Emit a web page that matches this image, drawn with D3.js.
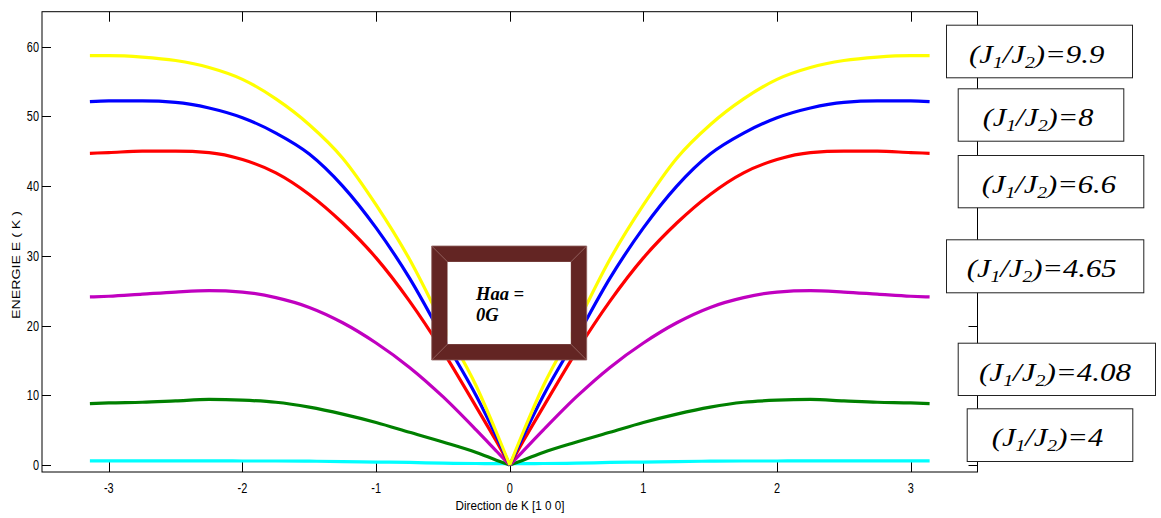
<!DOCTYPE html>
<html>
<head>
<meta charset="utf-8">
<script src="https://cdn.jsdelivr.net/npm/d3@7"></script>
<style>
  body { margin: 0; background: #fff; }
  svg { display: block; }
</style>
</head>
<body>
<svg id="chart" width="1161" height="518"></svg>
<script>
// Wave vector along [1 0 0], from -pi to pi
const kValues = [-3.1416, -3.0, -2.75, -2.5, -2.25, -2.0, -1.75, -1.5, -1.25, -1.0, -0.75, -0.5, -0.25, -0.1,
                 0,
                 0.1, 0.25, 0.5, 0.75, 1.0, 1.25, 1.5, 1.75, 2.0, 2.25, 2.5, 2.75, 3.0, 3.1416];

// Energy E(K) for each J1/J2 ratio
const energy99  = [58.7, 58.7, 58.5, 58.0, 57.0, 55.3, 52.5, 48.8, 44.0, 37.3, 29.5, 20.2, 11.3, 4.7,
                   0, 4.7, 11.3, 20.2, 29.5, 37.3, 44.0, 48.8, 52.5, 55.3, 57.0, 58.0, 58.5, 58.7, 58.7];
const energy8   = [52.1, 52.2, 52.2, 52.0, 51.2, 49.8, 47.6, 44.6, 40.0, 34.0, 26.8, 18.3, 9.9, 4.1,
                   0, 4.1, 9.9, 18.3, 26.8, 34.0, 40.0, 44.6, 47.6, 49.8, 51.2, 52.0, 52.2, 52.2, 52.1];
const energy66  = [44.7, 44.8, 45.0, 45.0, 44.8, 43.8, 41.9, 38.8, 34.7, 29.7, 23.5, 16.3, 8.3, 3.4,
                   0, 3.4, 8.3, 16.3, 23.5, 29.7, 34.7, 38.8, 41.9, 43.8, 44.8, 45.0, 45.0, 44.8, 44.7];
const energy465 = [24.1, 24.2, 24.5, 24.8, 25.0, 24.8, 24.0, 22.6, 20.4, 17.5, 14.0, 9.8, 5.0, 2.0,
                   0, 2.0, 5.0, 9.8, 14.0, 17.5, 20.4, 22.6, 24.0, 24.8, 25.0, 24.8, 24.5, 24.2, 24.1];
const energy408 = [8.8, 8.9, 9.0, 9.2, 9.4, 9.3, 9.0, 8.3, 7.3, 6.1, 4.7, 3.3, 1.8, 0.7,
                   0, 0.7, 1.8, 3.3, 4.7, 6.1, 7.3, 8.3, 9.0, 9.3, 9.4, 9.2, 9.0, 8.9, 8.8];
const energy4   = [0.6, 0.6, 0.6, 0.6, 0.6, 0.58, 0.58, 0.55, 0.5, 0.43, 0.37, 0.27, 0.22, 0.2,
                   0.2, 0.2, 0.22, 0.27, 0.37, 0.43, 0.5, 0.55, 0.58, 0.58, 0.6, 0.6, 0.6, 0.6, 0.6];

const ratioLabels = ["9.9", "8", "6.6", "4.65", "4.08", "4"];
const xTickValues = [-3, -2, -1, 0, 1, 2, 3];
const yTickValues = [0, 10, 20, 30, 40, 50, 60];

// Series, drawn bottom to top
const series = [
  { values: energy4,   color: "#00ffff" },
  { values: energy408, color: "#008000" },
  { values: energy465, color: "#c000c0" },
  { values: energy66,  color: "#ff0000" },
  { values: energy8,   color: "#0000ff" },
  { values: energy99,  color: "#ffff00" }
];

// Annotation boxes on the right (pixel layout)
const noteBoxes = [
  { x: 946,   y: 24.7,  w: 186,   h: 52.6, tx: 969,   tw: 136   },
  { x: 957.7, y: 88.3,  w: 165.6, h: 52.4, tx: 982.7, tw: 111.3 },
  { x: 957.7, y: 155,   w: 185.6, h: 52.3, tx: 981.7, tw: 135   },
  { x: 946,   y: 239.3, w: 197.3, h: 53,   tx: 966.7, tw: 150   },
  { x: 957.7, y: 342.7, w: 197.3, h: 52.3, tx: 979,   tw: 152.7 },
  { x: 966.7, y: 408.3, w: 165.6, h: 52.7, tx: 991.7, tw: 111.6 }
];

const svg = d3.select("#chart");
const plot = { left: 42, right: 977.5, top: 11.7, bottom: 472 };

const x = d3.scaleLinear().domain([-3.5, 3.5]).range([plot.left, plot.right]);
const y = d3.scaleLinear().domain([-1, 65]).range([plot.bottom, plot.top]);

svg.append("rect").attr("width", 1161).attr("height", 518).attr("fill", "#fff");

// Axes frame
const axes = svg.append("g").attr("stroke", "#000").attr("stroke-width", 1).attr("fill", "none");
axes.append("rect")
  .attr("x", plot.left).attr("y", plot.top)
  .attr("width", plot.right - plot.left).attr("height", plot.bottom - plot.top);

const xTickLen = 10, yTickLen = 9;
xTickValues.forEach(t => {
  const px = Math.round(x(t)) + 0.5;
  axes.append("line").attr("x1", px).attr("x2", px).attr("y1", plot.bottom).attr("y2", plot.bottom - xTickLen);
  axes.append("line").attr("x1", px).attr("x2", px).attr("y1", plot.top).attr("y2", plot.top + xTickLen);
});
yTickValues.forEach(t => {
  const py = Math.round(y(t)) + 0.5;
  axes.append("line").attr("x1", plot.left).attr("x2", plot.left + yTickLen).attr("y1", py).attr("y2", py);
  axes.append("line").attr("x1", plot.right).attr("x2", plot.right - yTickLen).attr("y1", py).attr("y2", py);
});

// Tick labels (narrow, tall sans)
const tickFont = "'Liberation Sans', Arial, Helvetica, sans-serif";
const labels = svg.append("g").attr("font-family", tickFont).attr("font-size", 14).attr("fill", "#000");
xTickValues.forEach(t => {
  labels.append("text")
    .attr("transform", `translate(${x(t)},${493}) scale(0.78,1)`)
    .attr("text-anchor", "middle")
    .text(String(t).replace("\u2212", "-"));
});
yTickValues.forEach(t => {
  labels.append("text")
    .attr("transform", `translate(${plot.left - 3},${y(t) + 5}) scale(0.78,1)`)
    .attr("text-anchor", "end")
    .text(t);
});

// Axis titles
svg.append("text")
  .attr("x", 510).attr("y", 510)
  .attr("text-anchor", "middle")
  .attr("font-family", tickFont).attr("font-size", 13)
  .attr("textLength", 109).attr("lengthAdjust", "spacingAndGlyphs")
  .text("Direction de K [1 0 0]");

svg.append("text")
  .attr("transform", "translate(20,265) rotate(-90)")
  .attr("text-anchor", "middle")
  .attr("font-family", tickFont).attr("font-size", 11.5)
  .attr("textLength", 108).attr("lengthAdjust", "spacingAndGlyphs")
  .text("ENERGIE E ( K )");

// Dispersion curves; each branch drawn separately so the cusp at K=0 stays sharp
const line = d3.line().x(d => x(d.k)).y(d => y(d.e)).curve(d3.curveMonotoneX);
const curves = svg.append("g").attr("fill", "none").attr("stroke-width", 3.2).attr("stroke-linejoin", "round");
series.forEach(s => {
  const pts = kValues.map((k, i) => ({ k, e: s.values[i] }));
  const leftBranch = pts.filter(p => p.k <= 0);
  const rightBranch = pts.filter(p => p.k >= 0);
  [leftBranch, rightBranch].forEach(b => {
    curves.append("path").attr("d", line(b)).attr("stroke", s.color);
  });
});

// Field label in a bevelled frame
const frame = { x0: 431.7, y0: 246, x1: 586.7, y1: 360, b: 16 };
const fg = svg.append("g");
fg.append("path")
  .attr("fill-rule", "evenodd")
  .attr("fill", "#632523")
  .attr("stroke", "#8f6260").attr("stroke-width", 0.8)
  .attr("d", `M${frame.x0},${frame.y0}H${frame.x1}V${frame.y1}H${frame.x0}Z` +
             `M${frame.x0 + frame.b},${frame.y0 + frame.b}V${frame.y1 - frame.b}H${frame.x1 - frame.b}V${frame.y0 + frame.b}Z`);
fg.append("rect")
  .attr("x", frame.x0 + frame.b).attr("y", frame.y0 + frame.b)
  .attr("width", frame.x1 - frame.x0 - 2 * frame.b).attr("height", frame.y1 - frame.y0 - 2 * frame.b)
  .attr("fill", "#fff");
[[frame.x0, frame.y0, 1, 1], [frame.x1, frame.y0, -1, 1], [frame.x0, frame.y1, 1, -1], [frame.x1, frame.y1, -1, -1]]
  .forEach(([cx, cy, sx, sy]) => {
    fg.append("line")
      .attr("x1", cx).attr("y1", cy)
      .attr("x2", cx + sx * frame.b).attr("y2", cy + sy * frame.b)
      .attr("stroke", "#9a6c6a").attr("stroke-width", 0.8);
  });
const haa = fg.append("text")
  .attr("font-family", "'Liberation Serif', 'Times New Roman', serif")
  .attr("font-weight", "bold").attr("font-style", "italic")
  .attr("font-size", 18.5).attr("fill", "#000");
haa.append("tspan").attr("x", 476).attr("y", 300).text("Haa =");
haa.append("tspan").attr("x", 476).attr("y", 321).text("0G");

// J1/J2 annotation boxes
const serif = "'Liberation Serif', 'Times New Roman', serif";
noteBoxes.forEach((nb, i) => {
  const g = svg.append("g");
  g.append("rect")
    .attr("x", nb.x + 0.5).attr("y", nb.y + 0.5).attr("width", nb.w).attr("height", nb.h)
    .attr("fill", "#fff").attr("stroke", "#222").attr("stroke-width", 1);
  const t = g.append("text")
    .attr("font-family", serif).attr("font-style", "italic")
    .attr("font-size", 25).attr("fill", "#000");
  t.append("tspan").text("(J");
  t.append("tspan").attr("font-size", 16).attr("dy", 5).text("1");
  t.append("tspan").attr("dy", -5).text("/J");
  t.append("tspan").attr("font-size", 16).attr("dy", 5).text("2");
  t.append("tspan").attr("dy", -5).text(")=" + ratioLabels[i]);
  const bb = t.node().getBBox();
  const sx = nb.tw / bb.width;
  t.attr("transform", `translate(${nb.tx - bb.x * sx},${nb.y + 38}) scale(${sx},1)`);
});
</script>
</body>
</html>
